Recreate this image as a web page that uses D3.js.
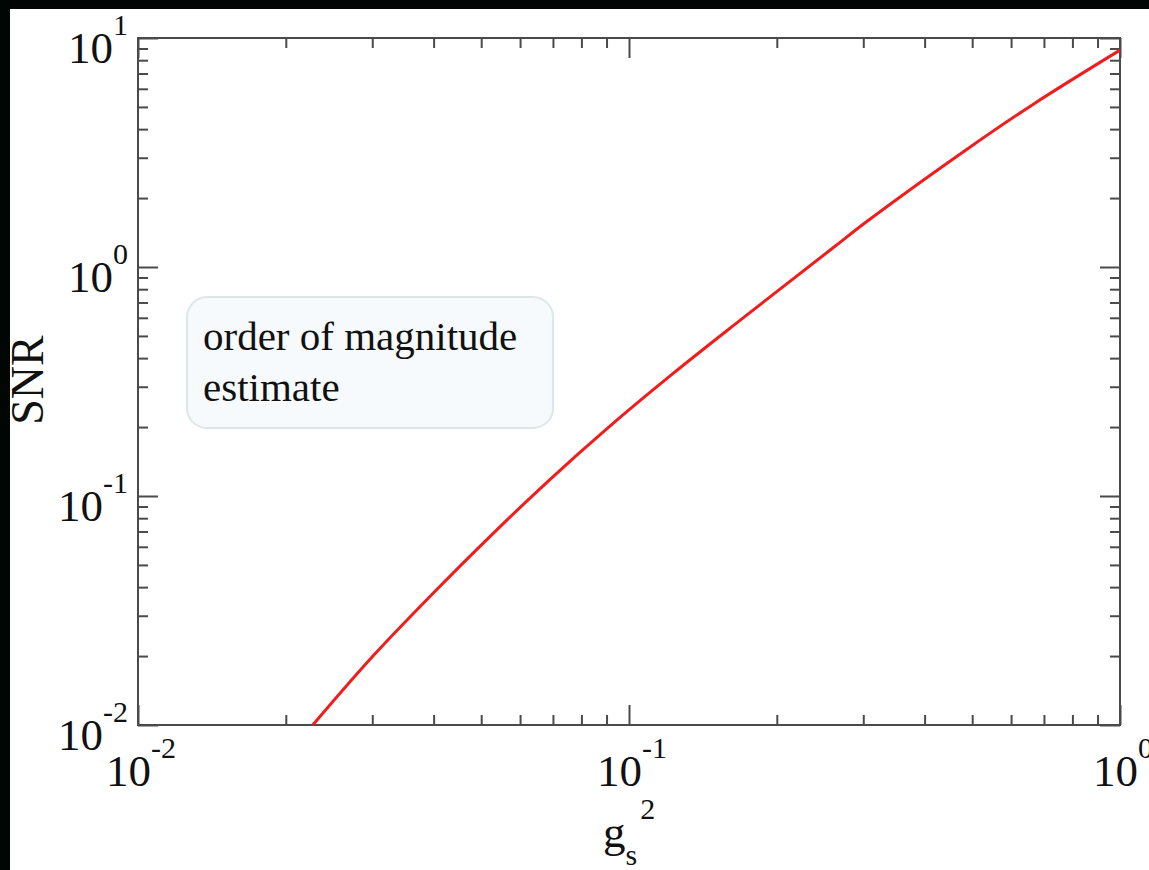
<!DOCTYPE html>
<html lang="en">
  <head>
    <meta charset="utf-8">
    <title>SNR vs gs^2</title>
    <style type="text/css">
body {
  margin: 0;
  background: #010604;
}
svg {
  display: block;
  font-family: "Liberation Serif", "DejaVu Serif", serif;
}
    </style>
  </head>

  <body>
    <div id="chart"></div>

    <script src="https://cdn.jsdelivr.net/npm/d3@7"></script>
    <script>
      // curve (g_s^2, SNR)
      var gs2 = [0.0227, 0.0301, 0.0399, 0.0514, 0.069, 0.0902, 0.123, 0.168, 0.260, 0.305, 0.488, 0.665, 1.0];
      var snr = [0.0100, 0.0200, 0.0376, 0.0647, 0.118, 0.197, 0.343, 0.583, 1.21, 1.58, 3.27, 5.13, 8.85];

      var xDomain = [0.01, 1];
      var yDomain = [0.01, 10];
      var xMajor = [-2, -1, 0];
      var yMajor = [-2, -1, 0, 1];
      var noteLines = ["order of magnitude", "estimate"];

      var W = 1149, H = 870;
      var margin = {top: 38, right: 29, bottom: 145, left: 138};
      var width = W - margin.left - margin.right,
          height = H - margin.top - margin.bottom;

      var svg = d3.select("#chart").append("svg")
          .attr("width", W)
          .attr("height", H);

      // white panel on black screen
      svg.append("rect")
          .attr("x", 10).attr("y", 9)
          .attr("width", W - 10).attr("height", H - 9)
          .attr("fill", "#fff");

      var g = svg.append("g").attr("transform", "translate(" + margin.left + "," + margin.top + ")");

      var x = d3.scaleLog().domain(xDomain).range([0, width]);
      var y = d3.scaleLog().domain(yDomain).range([height, 0]);

      function minors(dom) {
        var out = [];
        for (var e = Math.log10(dom[0]); e < Math.log10(dom[1]); e++) {
          for (var k = 2; k <= 9; k++) out.push(k * Math.pow(10, e));
        }
        return out;
      }
      var majX = xMajor.map(function(e) { return Math.pow(10, e); });
      var majY = yMajor.map(function(e) { return Math.pow(10, e); });

      function tickAxis(axis, vals, size, tr) {
        var a = g.append("g")
            .attr("transform", tr)
            .call(axis.tickValues(vals).tickSize(size).tickSizeOuter(0).tickFormat(""));
        a.select(".domain").remove();
        a.selectAll("line").attr("stroke", "#4a4a4a").attr("stroke-width", 2);
      }

      // inward ticks on all four sides
      tickAxis(d3.axisBottom(x), minors(xDomain), -10, "translate(0," + height + ")");
      tickAxis(d3.axisBottom(x), majX, -20, "translate(0," + height + ")");
      tickAxis(d3.axisTop(x), minors(xDomain), -10, "translate(0,0)");
      tickAxis(d3.axisTop(x), majX, -20, "translate(0,0)");
      tickAxis(d3.axisLeft(y), minors(yDomain), -10, "translate(0,0)");
      tickAxis(d3.axisLeft(y), majY, -20, "translate(0,0)");
      tickAxis(d3.axisRight(y), minors(yDomain), -10, "translate(" + width + ",0)");
      tickAxis(d3.axisRight(y), majY, -20, "translate(" + width + ",0)");

      // frame
      g.append("rect")
          .attr("width", width).attr("height", height)
          .attr("fill", "none")
          .attr("stroke", "#4a4a4a")
          .attr("stroke-width", 2);

      // tick labels 10^n
      yMajor.forEach(function(e) {
        var t = g.append("text")
            .attr("x", -10)
            .attr("y", y(Math.pow(10, e)) + 25)
            .attr("text-anchor", "end")
            .attr("font-size", 45)
            .attr("fill", "#111");
        t.append("tspan").text("10");
        t.append("tspan").attr("dy", -28).attr("font-size", 30).text(e);
      });
      xMajor.forEach(function(e) {
        var t = g.append("text")
            .attr("x", x(Math.pow(10, e)) + 3)
            .attr("y", height + 61)
            .attr("text-anchor", "middle")
            .attr("font-size", 45)
            .attr("fill", "#111");
        t.append("tspan").text("10");
        t.append("tspan").attr("dy", -28).attr("font-size", 30).text(e);
      });

      // axis titles
      var xt = svg.append("text")
          .attr("x", 603)
          .attr("y", 847)
          .attr("font-size", 45)
          .attr("fill", "#111");
      xt.append("tspan").text("g");
      xt.append("tspan").attr("dy", 18).attr("font-size", 30).text("s");
      xt.append("tspan").attr("dy", -46).attr("dx", 3).attr("font-size", 30).text("2");

      svg.append("text")
          .attr("transform", "translate(43,380) rotate(-90)")
          .attr("text-anchor", "middle")
          .attr("font-size", 46)
          .attr("fill", "#111")
          .text("SNR");

      // note box
      svg.append("rect")
          .attr("x", 187).attr("y", 297)
          .attr("width", 366).attr("height", 131)
          .attr("rx", 20).attr("ry", 20)
          .attr("fill", "#f6fafc")
          .attr("stroke", "#dde7ea")
          .attr("stroke-width", 2);
      noteLines.forEach(function(s, i) {
        svg.append("text")
            .attr("x", 203)
            .attr("y", 350 + i * 51)
            .attr("font-size", 41)
            .attr("fill", "#111")
            .text(s);
      });

      // curve
      var pts = gs2.map(function(d, i) { return [d, snr[i]]; });
      var line = d3.line()
          .x(function(d) { return x(d[0]); })
          .y(function(d) { return y(d[1]); })
          .curve(d3.curveCatmullRom.alpha(0.5));

      g.append("path")
          .datum(pts)
          .attr("fill", "none")
          .attr("stroke", "#f21c1c")
          .attr("stroke-width", 3)
          .attr("d", line);
    </script>
  </body>
</html>
